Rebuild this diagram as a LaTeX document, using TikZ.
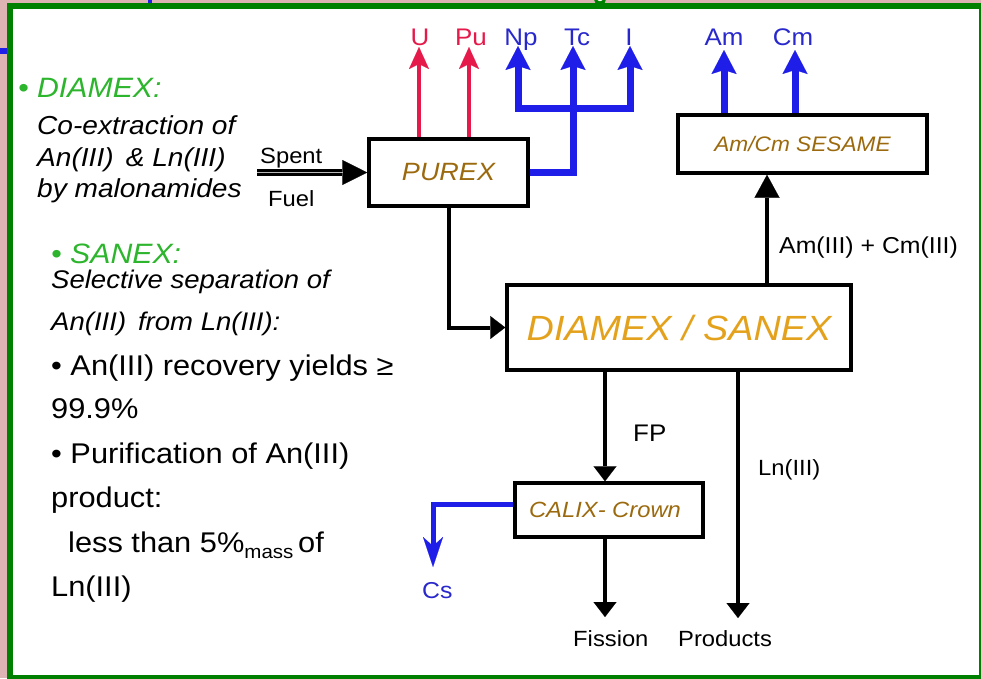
\documentclass[tikz,border=0pt]{standalone}
\usepackage{fontspec}
\setmainfont{Liberation Sans}[FakeStretch=1.08]
\usetikzlibrary{arrows.meta}
\newcommand\fsz[1]{\fontsize{#1}{#1}\selectfont}
\definecolor{frameg}{HTML}{008000}
\definecolor{txtg}{HTML}{2DB52D}
\definecolor{redA}{HTML}{E5194A}
\definecolor{blueA}{HTML}{1E1EE8}
\definecolor{blueT}{HTML}{2828CC}
\definecolor{goldA}{HTML}{9C6A0E}
\definecolor{goldB}{HTML}{E4A21C}
\definecolor{pinkbg}{HTML}{DDB3B3}
\begin{document}
\begin{tikzpicture}[x=1pt,y=-1pt,
  kh/.tip={Triangle[length=15pt,width=23pt,line width=0.1pt]},
  kbh/.tip={Triangle[length=23pt,width=25pt,line width=0.1pt]},
  sfh/.tip={Triangle[length=25pt,width=25pt,line width=0.1pt]},
  rh/.tip={Stealth[length=22pt,width=20pt,inset=5pt,line width=0.1pt]},
  bh/.tip={Stealth[length=24pt,width=25pt,inset=4pt,line width=0.1pt]},
  csh/.tip={Stealth[length=30pt,width=20pt,inset=9pt,line width=0.1pt]},
  txt/.style={inner sep=0pt, anchor=base west},
  lbl/.style={inner sep=0pt, anchor=base},
  box/.style={draw=black, line width=3.5pt, fill=white, inner sep=0pt},
  blk/.style={draw=black, line width=4pt, -kh},
  redarr/.style={draw=redA, line width=4pt, -rh},
  bluearr/.style={draw=blueA, line width=7pt, line join=miter, -bh},
]
\useasboundingbox (0,0) rectangle (981,678);
% background and frame
\fill[pinkbg] (0,0) rectangle (981,678);
\fill[blueA] (148,0) rectangle (152,3);
\fill[blueA] (0,48) rectangle (7,54);
\draw[frameg, line width=3pt, fill=white] (600,-2) circle (5);
\fill[white] (10,6) rectangle (982,678);
\draw[frameg, line width=6pt] (10,6) rectangle (982,678);

% left texts
\node[txt, text=txtg] (t1) at (18,97) {\fsz{28}\itshape • DIAMEX:};
\node[txt] (t2) at (37,134) {\fsz{26}\itshape Co-extraction of};
\node[txt] (t3) at (37,166) {\fsz{26}\itshape An(III) \,\& Ln(III)};
\node[txt] (t4) at (37,197) {\fsz{26}\itshape by malonamides};
\node[txt, text=txtg] (t5) at (51,263) {\fsz{28}\itshape • SANEX:};
\node[txt] (t6) at (51,288) {\fsz{25.5}\itshape Selective separation of};
\node[txt] (t7) at (51,330) {\fsz{25.5}\itshape An(III) \,from Ln(III):};
\node[txt] (t8) at (51,375) {\fsz{28.5}• An(III) recovery yields ≥};
\node[txt] (t9) at (51,418) {\fsz{28.5}99.9\%};
\node[txt] (t10) at (51,463) {\fsz{28.5}• Purification of An(III)};
\node[txt] (t11) at (51,507) {\fsz{28.5}product:};
\node[txt] (t12) at (68,552) {\fsz{28.5}less than 5\%\raisebox{-6pt}{\fsz{19}mass}\,of};
\node[txt] (t13) at (51,596) {\fsz{28.5}Ln(III)};

% boxes
\node[box, minimum width=159pt, minimum height=67pt] (purex) at (448.5,172.5)
  {\fsz{25}\itshape\color{goldA}\raisebox{-3pt}{PUREX}};
\node[box, minimum width=249pt, minimum height=58pt] (sesame) at (802.5,144)
  {\fsz{21}\itshape\color{goldA}\raisebox{-3pt}{Am/Cm SESAME}};
\node[box, minimum width=344pt, minimum height=85pt] (diamex) at (679,327.5)
  {\fsz{35}\itshape\color{goldB}\raisebox{-5pt}{DIAMEX / SANEX}};
\node[box, minimum width=188pt, minimum height=54pt] (calix) at (609,510)
  {\fsz{22}\itshape\color{goldA}\hspace{-8pt}CALIX- Crown};

% spent fuel
\coordinate (sf) at (257,172.5);
\draw[line width=7pt, -sfh] (sf) -- (purex.west);
\draw[gray!55, line width=1.3pt] (sf) -- ++(86,0);
\node[txt] (spent) at (260,163) {\fsz{22}Spent};
\node[txt] (fuel) at (268,206) {\fsz{22}Fuel};

% top outputs of PUREX
\coordinate (uTip) at (419,47);
\coordinate (puTip) at (469,47);
\coordinate (npTip) at (518,46);
\coordinate (tcTip) at (573,46);
\coordinate (iTip) at (630,46);
\coordinate (jn) at (573,108);
\draw[redarr] (purex.north -| uTip) -- (uTip);
\draw[redarr] (purex.north -| puTip) -- (puTip);
\draw[bluearr] (purex.east) -| (tcTip);
\draw[bluearr, bh-bh] (npTip) -- (npTip |- jn) -- (iTip |- jn) -- (iTip);
\node[lbl, text=redA] (U) at (420,45) {\fsz{24}U};
\node[lbl, text=redA] (Pu) at (471,45) {\fsz{24}Pu};
\node[lbl, text=blueT] (Np) at (521,45) {\fsz{24}Np};
\node[lbl, text=blueT] (Tc) at (577,45) {\fsz{24}Tc};
\node[lbl, text=blueT] (I) at (629,45) {\fsz{24}I};

% SESAME outputs
\coordinate (amTip) at (724,50);
\coordinate (cmTip) at (795,50);
\draw[bluearr] (sesame.north -| amTip) -- (amTip);
\draw[bluearr] (sesame.north -| cmTip) -- (cmTip);
\node[lbl, text=blueT] (Am) at (724,45) {\fsz{24}Am};
\node[lbl, text=blueT] (Cm) at (793,45) {\fsz{24}Cm};

% PUREX -> DIAMEX
\draw[blk] (purex.south) |- (diamex.west);

% DIAMEX -> SESAME
\coordinate (ax) at (767,240);
\draw[draw=black, line width=4pt, -kbh] (ax |- diamex.north) -- (ax |- sesame.south);
\node[txt] (amcm) at (779,253) {\fsz{23}Am(III) + Cm(III)};

% FP
\coordinate (fpx) at (605,430);
\draw[blk] (fpx |- diamex.south) -- (fpx |- calix.north);
\node[txt] (fp) at (633,441) {\fsz{24}FP};

% Ln(III)
\coordinate (lnTip) at (738,618);
\draw[blk] (lnTip |- diamex.south) -- (lnTip);
\node[txt] (ln) at (758,475) {\fsz{22}Ln(III)};

% Fission
\coordinate (fTip) at (605,617);
\draw[blk] (calix.south -| fTip) -- (fTip);
\node[txt] (fis) at (573,646) {\fsz{22}Fission};
\node[txt] (prod) at (678,646) {\fsz{22}Products};

% Cs
\coordinate (csK) at (433,504);
\coordinate (csTip) at (433,567);
\draw[draw=blueA, line width=5pt, line join=miter, -csh] (calix.west |- csK) -- (csK) -- (csTip);
\node[txt, text=blueT] (cs) at (422,598) {\fsz{23}Cs};
\end{tikzpicture}
\end{document}
